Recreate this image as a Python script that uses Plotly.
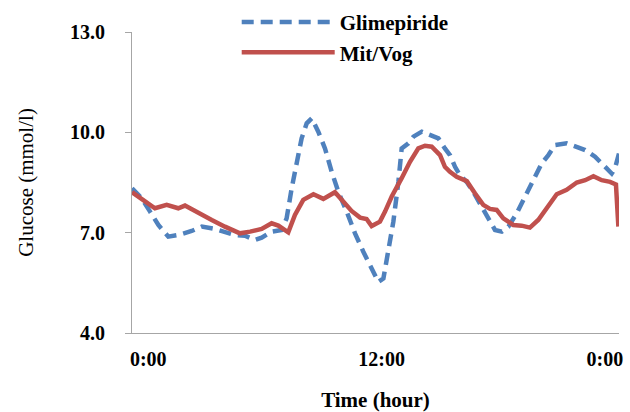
import plotly.graph_objects as go

# Hours from start of recording
red_hours = [0, 0.64, 1.13, 1.71, 2.28, 2.61, 3.27, 3.93, 4.58, 5.32, 5.82, 6.39, 6.88, 7.21, 7.70,
             8.03, 8.44, 8.94, 9.43, 10.0, 10.41, 10.82, 11.24, 11.56, 11.81, 12.22, 12.47, 12.80,
             13.29, 13.70, 14.11, 14.44, 14.77, 15.18, 15.42, 15.67, 16.0, 16.5, 16.9, 17.31, 17.64,
             17.97, 18.30, 18.79, 19.2, 19.61, 20.02, 20.52, 20.93, 21.42, 21.92, 22.33, 22.74,
             23.15, 23.56, 23.85, 23.97]
mitvog = [8.21, 7.93, 7.73, 7.83, 7.73, 7.81, 7.58, 7.38, 7.18, 6.98, 7.03, 7.11, 7.28, 7.21, 7.01,
          7.53, 7.98, 8.15, 8.01, 8.21, 7.93, 7.65, 7.45, 7.41, 7.20, 7.33, 7.63, 8.08,
          8.63, 9.12, 9.52, 9.60, 9.57, 9.32, 8.97, 8.82, 8.67, 8.54, 8.18, 7.83, 7.71,
          7.68, 7.43, 7.23, 7.21, 7.15, 7.38, 7.83, 8.15, 8.28, 8.50, 8.57, 8.69,
          8.57, 8.52, 8.44, 7.18]

blue_hours = [0, 0.47, 0.89, 1.3, 1.79, 2.28, 2.94, 3.44, 4.09, 4.58, 5.08, 5.57, 6.06, 6.39, 6.88,
              7.38, 7.62, 7.87, 8.12, 8.36, 8.61, 8.86, 9.18, 9.51, 9.84, 10.17, 10.58, 10.99,
              11.4, 11.81, 12.14, 12.39, 12.63, 12.88, 13.13, 13.29, 13.62, 13.87, 14.28, 14.61,
              15.10, 15.42, 15.67, 15.92, 16.16, 16.49, 16.82, 17.23, 17.56, 17.89, 18.22, 18.55,
              18.96, 19.37, 19.86, 20.19, 20.52, 20.85, 21.42, 21.84, 22.33, 22.82, 23.23, 23.64,
              23.80, 24.0]
glimepiride = [8.33, 8.03, 7.63, 7.23, 6.88, 6.93, 7.05, 7.18, 7.11, 7.03, 6.93, 6.91, 6.78, 6.85, 7.03,
               7.08, 7.43, 8.33, 9.12, 9.82, 10.27, 10.42, 10.02, 9.52, 8.82, 8.22, 7.63, 6.98,
               6.43, 5.93, 5.53, 5.63, 6.43, 7.33, 8.53, 9.52, 9.67, 9.87, 10.02, 9.94,
               9.82, 9.52, 9.32, 8.97, 8.72, 8.52, 8.22, 7.78, 7.43, 7.08, 7.03, 7.18,
               7.58, 8.08, 8.63, 9.07, 9.32, 9.62, 9.67, 9.57, 9.47, 9.27, 9.02, 8.77,
               8.92, 9.37]

x_tick_vals = [0.8, 12.3, 23.3]
x_tick_text = ["0:00", "12:00", "0:00"]
y_tick_vals = [4.0, 7.0, 10.0, 13.0]

SERIF = "Liberation Serif, Times New Roman, serif"

fig = go.Figure()
fig.add_trace(go.Scatter(x=blue_hours, y=glimepiride, name="Glimepiride", mode="lines",
                         line=dict(color="#4F81BD", width=4.5, dash="12px,7px")))
fig.add_trace(go.Scatter(x=red_hours, y=mitvog, name="Mit/Vog", mode="lines",
                         line=dict(color="#C0504D", width=4.5)))

fig.update_layout(
    width=630, height=412,
    margin=dict(l=132, r=11, t=32, b=79, autoexpand=False),
    paper_bgcolor="white", plot_bgcolor="white",
    font=dict(family=SERIF, color="black", size=20),
    showlegend=True,
    legend=dict(x=0.215, y=1.1, xanchor="left", yanchor="top",
                font=dict(family=SERIF, size=21, weight="bold"),
                itemwidth=93, bgcolor="rgba(0,0,0,0)", tracegroupgap=0),
    xaxis=dict(range=[0, 24], tickvals=x_tick_vals, ticktext=x_tick_text, showgrid=False,
               zeroline=False, showline=True, linecolor="#A6A6A6", linewidth=1, ticks="",
               tickangle=0,
               tickfont=dict(family=SERIF, size=20, weight="bold"), ticklabelstandoff=8,
               title=dict(text="Time (hour)", font=dict(family=SERIF, size=21, weight="bold"), standoff=24)),
    yaxis=dict(range=[4, 13], tickvals=y_tick_vals, tickformat=".1f", showgrid=False,
               zeroline=False, showline=True, linecolor="#A6A6A6", linewidth=1,
               ticks="outside", ticklen=6, tickcolor="#A6A6A6",
               tickfont=dict(family=SERIF, size=20, weight="bold"), ticklabelstandoff=16,
               title=dict(text="Glucose (mmol/l)", font=dict(family=SERIF, size=21), standoff=30)),
)

fig.write_html("out.html", config={"displayModeBar": False},
               post_script="document.body.style.margin='0';document.body.style.padding='0';")
